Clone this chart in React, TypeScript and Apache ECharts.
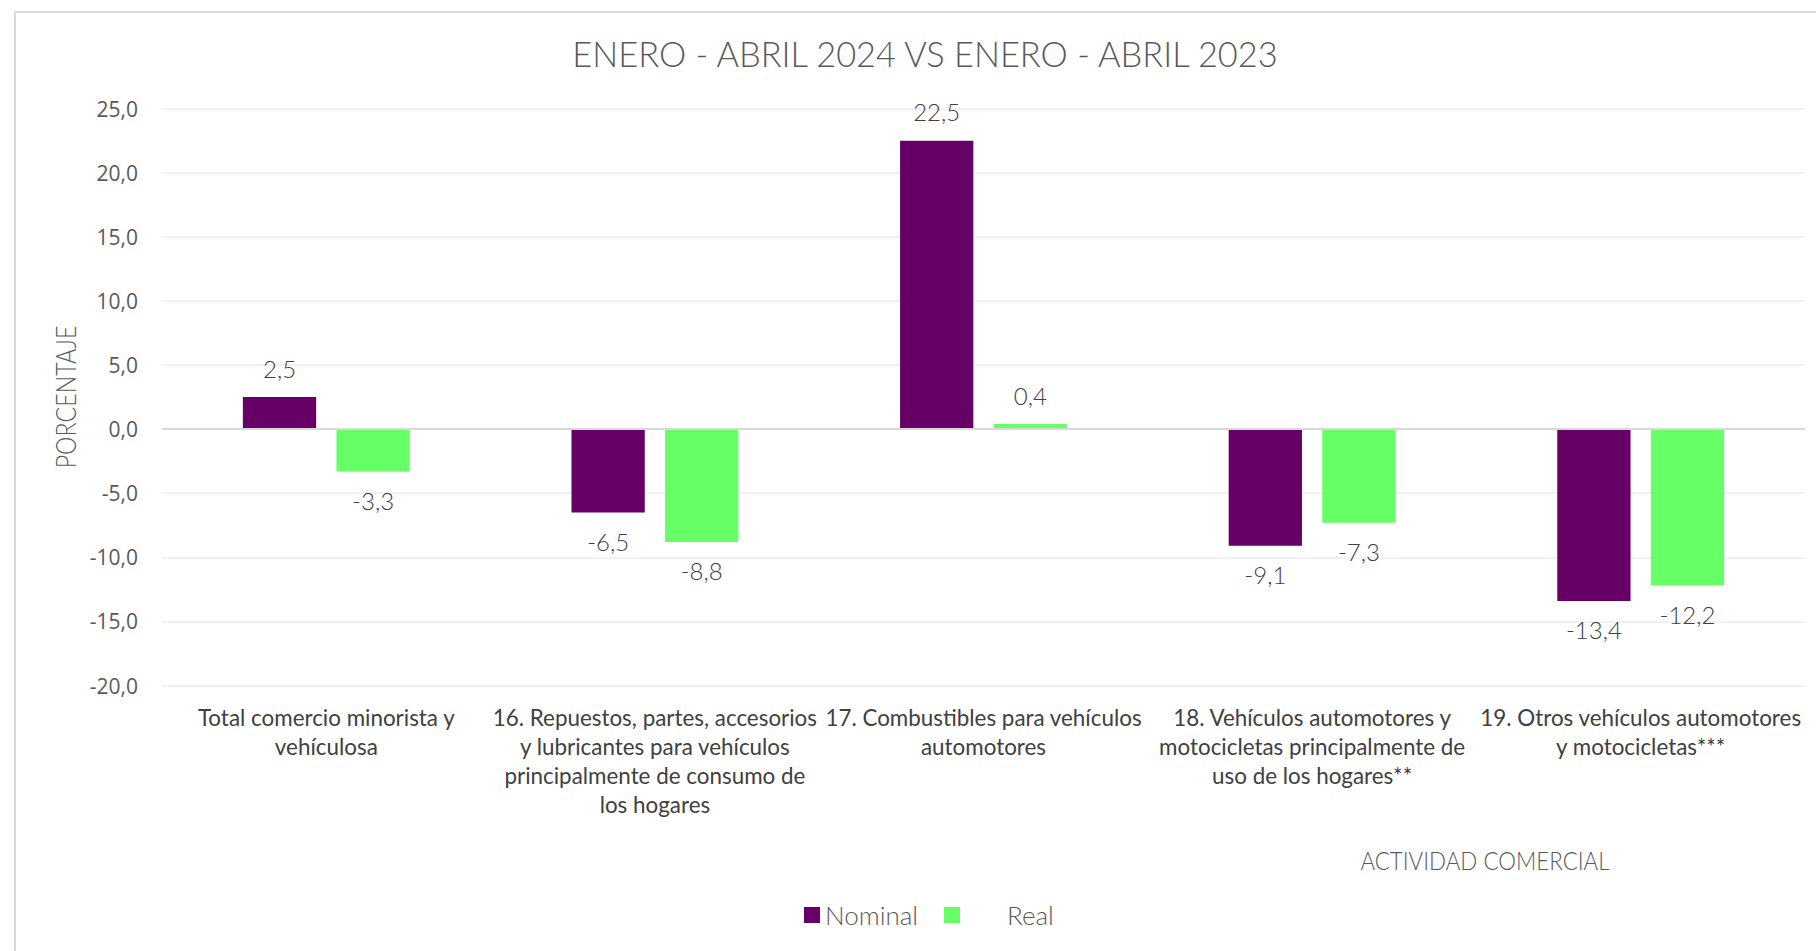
import React, { useEffect, useRef } from "react";
import * as echarts from "echarts";

const categories = [
  "Total comercio minorista y\nvehículosa",
  "16. Repuestos, partes, accesorios\ny lubricantes para vehículos\nprincipalmente de consumo de\nlos hogares",
  "17. Combustibles para vehículos\nautomotores",
  "18. Vehículos automotores y\nmotocicletas principalmente de\nuso de los hogares**",
  "19. Otros vehículos automotores\ny motocicletas***",
];
const nominal = [2.5, -6.5, 22.5, -9.1, -13.4];
const real = [-3.3, -8.8, 0.4, -7.3, -12.2];
const seriesNames = ["Nominal", "Real"];
const yMin = -20;
const yMax = 25;
const yInterval = 5;
const titleText = "ENERO - ABRIL 2024 VS ENERO - ABRIL 2023";
const yAxisTitle = "PORCENTAJE";
const xAxisTitle = "ACTIVIDAD COMERCIAL";

const fmt = (v: number) => v.toFixed(1).replace(".", ",");
const LIGHT = "Lato";

const makeData = (arr: number[]) =>
  arr.map((v) => ({
    value: v,
    label: { position: v >= 0 ? "top" : "bottom" },
  }));

export default function App() {
  const ref = useRef<HTMLDivElement>(null);
  useEffect(() => {
    if (!ref.current) return;
    const chart = echarts.init(ref.current, undefined, { renderer: "svg" });
    const labelStyle = {
      show: true,
      formatter: (p: any) => fmt(p.value),
      fontFamily: LIGHT,
      fontWeight: 300,
      fontSize: 24,
      color: "#404040",
      distance: 17,
    };
    chart.setOption({
      animation: false,
      backgroundColor: "#ffffff",
      grid: { left: 162, right: 11, top: 108.7, bottom: 265.5, containLabel: false },
      legend: [
        {
          data: [seriesNames[0]],
          left: 799,
          top: 897,
          icon: "rect",
          itemWidth: 16,
          itemHeight: 16,
          textStyle: { fontFamily: LIGHT, fontWeight: 300, fontSize: 26, color: "#595959" },
        },
        {
          data: [seriesNames[1]],
          left: 939,
          top: 897,
          icon: "rect",
          itemWidth: 16,
          itemHeight: 16,
          textStyle: {
            fontFamily: LIGHT,
            fontWeight: 300,
            fontSize: 26,
            color: "#595959",
            padding: [0, 0, 0, 42],
          },
        },
      ],
      xAxis: {
        type: "category",
        data: categories,
        axisLine: { show: false, onZero: false },
        axisTick: { show: false },
        axisLabel: {
          interval: 0,
          margin: 17,
          fontFamily: LIGHT,
          fontSize: 22.4,
          lineHeight: 29,
          color: "#404040",
          align: "center",
        },
        splitLine: { show: false },
      },
      yAxis: {
        type: "value",
        min: yMin,
        max: yMax,
        interval: yInterval,
        axisLine: { show: false },
        axisTick: { show: false },
        axisLabel: {
          margin: 24,
          fontFamily: "Open Sans",
          fontSize: 21,
          color: "#595959",
          formatter: (v: number) => fmt(v),
        },
        splitLine: { lineStyle: { color: "#ededed", width: 1.5 } },
      },
      graphic: [
        {
          type: "rect",
          shape: { x: 15, y: 12, width: 1830, height: 960 },
          style: { fill: "none", stroke: "#d9d9d9", lineWidth: 2 },
          silent: true,
        },
        {
          type: "text",
          x: 925,
          y: 53,
          scaleX: 0.983,
          style: {
            text: titleText,
            textAlign: "center",
            textVerticalAlign: "middle",
            fontFamily: LIGHT,
            fontWeight: 300,
            fontSize: 35,
            fill: "#595959",
          },
        },
        {
          type: "text",
          x: 65,
          y: 397,
          rotation: Math.PI / 2,
          scaleX: 0.83,
          style: {
            text: yAxisTitle,
            textAlign: "center",
            textVerticalAlign: "middle",
            fontFamily: LIGHT,
            fontWeight: 300,
            fontSize: 28,
            fill: "#595959",
          },
        },
        {
          type: "text",
          x: 1485,
          y: 860,
          scaleX: 0.86,
          style: {
            text: xAxisTitle,
            textAlign: "center",
            textVerticalAlign: "middle",
            fontFamily: LIGHT,
            fontWeight: 300,
            fontSize: 26,
            fill: "#595959",
          },
        },
      ],
      series: [
        {
          name: seriesNames[0],
          type: "bar",
          data: makeData(nominal),
          barWidth: "22.3%",
          barGap: "27.7%",
          itemStyle: { color: "#660066" },
          label: labelStyle,
          markLine: {
            silent: true,
            symbol: "none",
            label: { show: false },
            lineStyle: { color: "#d9d9d9", width: 2, type: "solid" },
            data: [{ yAxis: 0 }],
          },
          z: 3,
        },
        {
          name: seriesNames[1],
          type: "bar",
          data: makeData(real),
          barWidth: "22.3%",
          barGap: "27.7%",
          itemStyle: { color: "#66FF66" },
          label: labelStyle,
          z: 3,
        },
      ],
    });
    return () => chart.dispose();
  }, []);
  return (
    <div
      ref={ref}
      style={{ position: "fixed", left: 0, top: 0, width: 1816, height: 951 }}
    />
  );
}
